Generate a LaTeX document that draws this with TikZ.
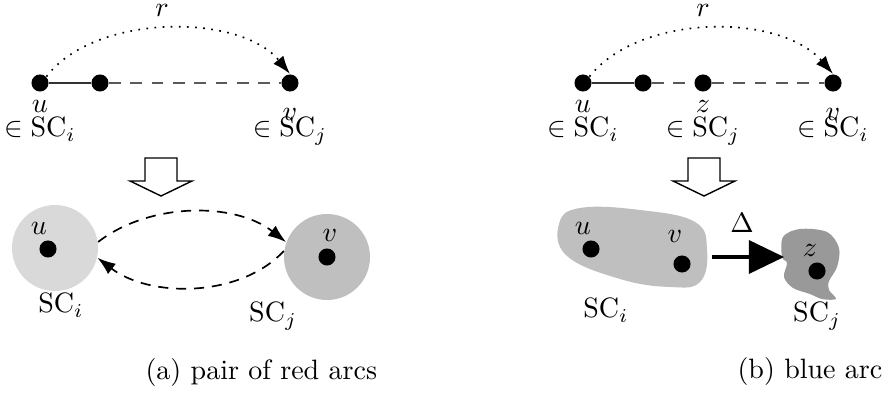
\documentclass[tikz,border=0pt]{standalone}
\usepackage{amsmath}
\usepackage{xcolor}
\usetikzlibrary{arrows.meta, positioning}
\definecolor{sclight}{gray}{0.85}
\definecolor{scmid}{gray}{0.75}
\definecolor{scdark}{gray}{0.6}
\newcommand{\openarrow}[1]{\draw[bigdown,shift={#1}] (-16,0) -- (16,0) -- (16,23) -- (31,23) -- (0,38) -- (-31,23) -- (-16,23) -- cycle;}

\begin{document}
\begin{tikzpicture}[x=0.357pt,y=-0.357pt,
  dot/.style={circle,fill=black,inner sep=0pt,minimum size=6.1pt},
  link/.style={line width=0.7pt,draw=black!80},
  gap/.style={line width=0.7pt,draw=black!65,dash pattern=on 4.2pt off 3.4pt},
  reach/.style={line width=0.6pt,dash pattern=on 0.6pt off 2.3pt,-{Latex[length=6.5pt,width=4.6pt]}},
  redarc/.style={line width=0.6pt,dash pattern=on 3.6pt off 2.8pt,-{Latex[length=6.5pt,width=4.6pt]}},
  bigdown/.style={draw=black,line width=0.5pt,fill=white},
  lab/.style={anchor=base,inner sep=0pt}]
\useasboundingbox (0,0) rectangle (887,398);

% (a) pair of red arcs
\node[dot] (au) at (40,83) {};
\node[dot] (am) at (100,83) {};
\node[dot] (av) at (290,83) {};
\draw[link] (au) -- (am);
\draw[gap] (am) -- (av);
\draw[reach] (au.north east) .. controls (95,13) and (240,13) .. (av.north);
\node[lab] (ar) at (162,17) {$r$};
\node[lab] (aul) at (40,113) {$u$};
\node[lab] (avl) at (290,121) {$v$};
\node[lab] (aui) at (40,137) {$\in\mathrm{SC}_i$};
\node[lab] (avi) at (290,137) {$\in\mathrm{SC}_j$};

\openarrow{(161,158)}

\node[circle,fill=sclight,inner sep=0pt,minimum size=30.7pt] (sci) at (55,248) {};
\node[circle,fill=scmid,inner sep=0pt,minimum size=30.7pt] (scj) at (327,257) {};
\node[dot] (bu) at (48,249) {};
\node[dot] (bv) at (327,257) {};
\node[lab] (bul) at (39,235) {$u$};
\node[lab] (bvl) at (330,242) {$v$};
\draw[redarc] (sci.8) .. controls (150,202) and (235,202) .. (scj.160);
\draw[redarc] (scj.172) .. controls (240,298) and (150,298) .. (sci.-13);
\node[lab] (bsci) at (61,313) {$\mathrm{SC}_i$};
\node[lab] (bscj) at (273,322) {$\mathrm{SC}_j$};

\node[anchor=base west,inner sep=0pt] (capa) at (145,380) {(a) pair of red arcs};

% (b) blue arc
\node[dot] (cu) at (583,83) {};
\node[dot] (cm) at (643,83) {};
\node[dot] (cz) at (703,83) {};
\node[dot] (cv) at (833,83) {};
\draw[link] (cu) -- (cm);
\draw[gap] (cm) -- (cz);
\draw[gap] (cz) -- (cv);
\draw[reach] (cu.north east) .. controls (640,13) and (780,13) .. (cv.north);
\node[lab] (cr) at (703,17) {$r$};
\node[lab] (cul) at (583,113) {$u$};
\node[lab] (czl) at (703,113) {$z$};
\node[lab] (cvl) at (833,121) {$v$};
\node[lab] (cui) at (583,137) {$\in\mathrm{SC}_i$};
\node[lab] (czi) at (703,137) {$\in\mathrm{SC}_j$};
\node[lab] (cvi) at (833,137) {$\in\mathrm{SC}_i$};

\openarrow{(704,158)}

\fill[scmid] plot[smooth cycle,tension=0.7] coordinates {(559,224) (580,208) (640,210) (695,222) (707,250) (700,282) (670,287) (620,279) (567,256)};
\fill[scdark] plot[smooth cycle,tension=0.55] coordinates {(783,237) (800,229) (827,232) (839,248) (837,267) (829,281) (829,290) (836,299) (822,299) (810,294) (793,288) (784,277) (787,263) (782,257)};
\node[dot] (du) at (591,249) {};
\node[dot] (dv) at (682,264) {};
\node[dot] (dz) at (817,271) {};
\node[lab] (dul) at (583,235) {$u$};
\node[lab] (dvl) at (675,243) {$v$};
\node[lab] (dzl) at (810,257) {$z$};
\coordinate (dfrom) at (712,257);
\coordinate (dto) at (784,257);
\draw[line width=1.1pt,-{Triangle[length=12.5pt,width=11.8pt]}] (dfrom) -- (dto);
\node[lab] (ddelta) at (742,233) {$\Delta$};
\node[lab] (dsci) at (606,318) {$\mathrm{SC}_i$};
\node[lab] (dscj) at (817,322) {$\mathrm{SC}_j$};

\node[anchor=base west,inner sep=0pt] (capb) at (737,379) {(b) blue arc};
\end{tikzpicture}
\end{document}
